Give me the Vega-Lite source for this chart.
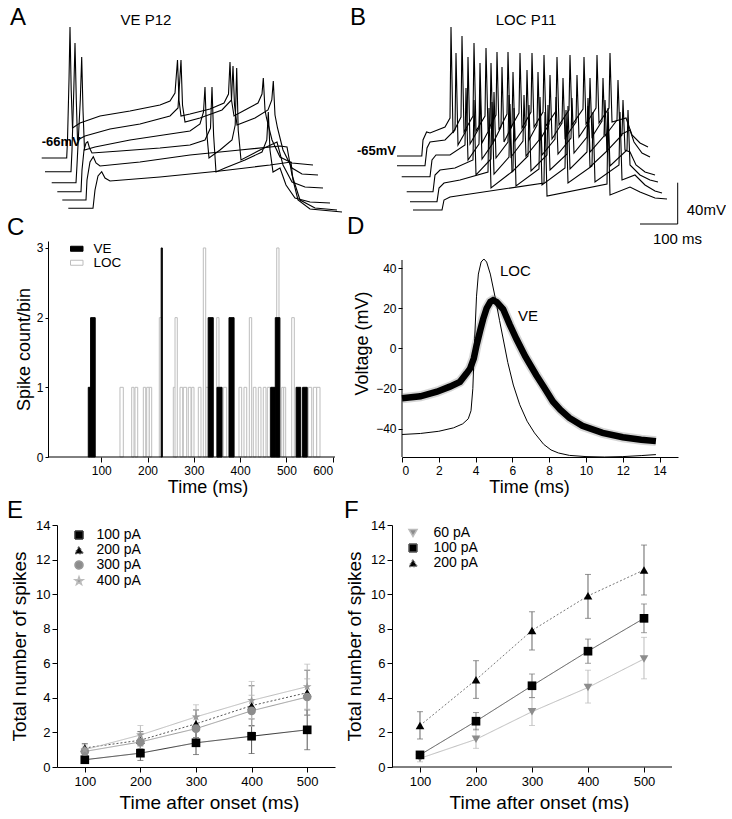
{
"$schema": "https://vega.github.io/schema/vega-lite/v6.json",
"padding": 0,
"background": "white",
"columns": 4,
"align": "each",
"bounds": "flush",
"spacing": {"row": 68, "column": 0},
"resolve": {
 "scale": {"color": "independent", "fill": "independent", "stroke": "independent", "shape": "independent", "strokeDash": "independent"},
 "legend": {"color": "independent", "fill": "independent", "stroke": "independent", "shape": "independent", "strokeDash": "independent"}
},
"config": {
 "font": "Liberation Sans",
 "view": {"stroke": null},
 "axis": {"grid": false, "domainColor": "black", "tickColor": "black", "labelColor": "black", "titleColor": "black", "titleFontWeight": "normal", "domainWidth": 1, "tickWidth": 1}
},
"datasets": {
 "ve": [{"t":0,"v":-24.8},{"t":1,"v":-23.8},{"t":1.9,"v":-21.5},{"t":2.6,"v":-19},{"t":3.15,"v":-16.6},{"t":3.5,"v":-12.5},{"t":3.7,"v":-10},{"t":3.9,"v":-5},{"t":4.05,"v":1.5},{"t":4.25,"v":9},{"t":4.41,"v":14.6},{"t":4.6,"v":20},{"t":4.8,"v":23.2},{"t":4.95,"v":24},{"t":5.15,"v":23},{"t":5.5,"v":19.5},{"t":5.85,"v":12},{"t":6.22,"v":4.7},{"t":6.7,"v":-4},{"t":7.3,"v":-13.3},{"t":7.7,"v":-19},{"t":8.2,"v":-26.4},{"t":8.6,"v":-30.5},{"t":9.1,"v":-34.6},{"t":9.8,"v":-38.5},{"t":10.9,"v":-42},{"t":12,"v":-44.2},{"t":13,"v":-45.4},{"t":13.8,"v":-46.1}],
 "eData": [
{"s":"100 pA","t":100,"m":0.42,"lo":0.28,"hi":0.56},{"s":"100 pA","t":200,"m":0.8,"lo":0.38,"hi":1.22},{"s":"100 pA","t":300,"m":1.4,"lo":0.72,"hi":2.08},{"s":"100 pA","t":400,"m":1.78,"lo":0.78,"hi":2.78},{"s":"100 pA","t":500,"m":2.15,"lo":1.0,"hi":3.3},
{"s":"200 pA","t":100,"m":1.1,"lo":0.85,"hi":1.35},{"s":"200 pA","t":200,"m":1.55,"lo":1.05,"hi":2.05},{"s":"200 pA","t":300,"m":2.5,"lo":1.7,"hi":3.3},{"s":"200 pA","t":400,"m":3.55,"lo":2.4,"hi":4.7},{"s":"200 pA","t":500,"m":4.3,"lo":3.0,"hi":5.6},
{"s":"300 pA","t":100,"m":0.9,"lo":0.65,"hi":1.15},{"s":"300 pA","t":200,"m":1.45,"lo":0.95,"hi":1.95},{"s":"300 pA","t":300,"m":2.22,"lo":1.5,"hi":2.95},{"s":"300 pA","t":400,"m":3.25,"lo":2.35,"hi":4.15},{"s":"300 pA","t":500,"m":4.05,"lo":3.0,"hi":5.1},
{"s":"400 pA","t":100,"m":1.0,"lo":0.72,"hi":1.28},{"s":"400 pA","t":200,"m":1.85,"lo":1.3,"hi":2.4},{"s":"400 pA","t":300,"m":2.9,"lo":2.15,"hi":3.6},{"s":"400 pA","t":400,"m":3.85,"lo":2.8,"hi":4.95},{"s":"400 pA","t":500,"m":4.65,"lo":3.35,"hi":5.95}
 ],
 "fData": [
{"s":"60 pA","t":100,"m":0.5,"lo":0.3,"hi":0.7},{"s":"60 pA","t":200,"m":1.6,"lo":1.08,"hi":2.2},{"s":"60 pA","t":300,"m":3.2,"lo":2.4,"hi":4.0},{"s":"60 pA","t":400,"m":4.6,"lo":3.7,"hi":5.6},{"s":"60 pA","t":500,"m":6.25,"lo":5.1,"hi":7.5},
{"s":"100 pA","t":100,"m":0.7,"lo":0.5,"hi":0.9},{"s":"100 pA","t":200,"m":2.65,"lo":2.15,"hi":3.15},{"s":"100 pA","t":300,"m":4.7,"lo":4.02,"hi":5.38},{"s":"100 pA","t":400,"m":6.7,"lo":6.0,"hi":7.4},{"s":"100 pA","t":500,"m":8.6,"lo":7.77,"hi":9.43},
{"s":"200 pA","t":100,"m":2.4,"lo":1.62,"hi":3.2},{"s":"200 pA","t":200,"m":5.05,"lo":3.97,"hi":6.15},{"s":"200 pA","t":300,"m":7.9,"lo":6.77,"hi":8.98},{"s":"200 pA","t":400,"m":9.9,"lo":8.6,"hi":11.14},{"s":"200 pA","t":500,"m":11.4,"lo":9.95,"hi":12.84}
 ]
},
"concat": [
 {"width": 57, "height": 173, "data": {"values": []}, "mark": "point"},
 {
  "width": 278, "height": 173,
  "encoding": {
   "x": {"field": "t", "type": "quantitative", "scale": {"domain": [42.5, 737.5], "nice": false, "zero": false}, "axis": null},
   "y": {"field": "v", "type": "quantitative", "scale": {"domain": [-81, 92], "nice": false, "zero": false}, "axis": null}
  },
  "layer": [
   {"data": {"values": [
{"k":1,"t":4.25,"v":-66},{"k":1,"t":66.75,"v":-66},{"k":1,"t":68.75,"v":-48},{"k":1,"t":72.5,"v":12},{"k":1,"t":75,"v":65},{"k":1,"t":78,"v":2},{"k":1,"t":81.25,"v":-36},{"k":1,"t":100,"v":-31},{"k":1,"t":150,"v":-24},{"k":1,"t":225,"v":-19},{"k":1,"t":300,"v":-13},{"k":1,"t":325,"v":-9},{"k":1,"t":337.5,"v":-1},{"k":1,"t":343.75,"v":32},{"k":1,"t":347.5,"v":-8},{"k":1,"t":352.5,"v":-24},{"k":1,"t":375,"v":-22},{"k":1,"t":425,"v":-17},{"k":1,"t":460,"v":-11},{"k":1,"t":471.25,"v":-2},{"k":1,"t":475,"v":30},{"k":1,"t":478.75,"v":-8},{"k":1,"t":485,"v":-24},{"k":1,"t":512.5,"v":-18},{"k":1,"t":545,"v":-11},{"k":1,"t":555,"v":-2},{"k":1,"t":558.25,"v":14},{"k":1,"t":562.5,"v":-18},{"k":1,"t":566.25,"v":-26},{"k":1,"t":580,"v":-48},{"k":1,"t":600,"v":-65},{"k":1,"t":630,"v":-71},{"k":1,"t":682.5,"v":-73},
{"k":2,"t":12.5,"v":-79.7},{"k":2,"t":77.5,"v":-79.7},{"k":2,"t":80,"v":-58},{"k":2,"t":84.5,"v":2},{"k":2,"t":87.5,"v":49},{"k":2,"t":90.75,"v":-8},{"k":2,"t":93.75,"v":-48},{"k":2,"t":112.5,"v":-44},{"k":2,"t":175,"v":-37},{"k":2,"t":250,"v":-32},{"k":2,"t":325,"v":-24},{"k":2,"t":345,"v":-16},{"k":2,"t":352.5,"v":32},{"k":2,"t":356.25,"v":-13},{"k":2,"t":362.5,"v":-30},{"k":2,"t":400,"v":-26},{"k":2,"t":455,"v":-18},{"k":2,"t":478.75,"v":-8},{"k":2,"t":482.5,"v":26},{"k":2,"t":486.25,"v":-13},{"k":2,"t":492.5,"v":-33},{"k":2,"t":537.5,"v":-26},{"k":2,"t":570,"v":-18},{"k":2,"t":579.5,"v":-8},{"k":2,"t":583.25,"v":11},{"k":2,"t":587.5,"v":-23},{"k":2,"t":593.75,"v":-36},{"k":2,"t":607.5,"v":-58},{"k":2,"t":630,"v":-76},{"k":2,"t":655,"v":-82},{"k":2,"t":695,"v":-83},
{"k":3,"t":29.25,"v":-90.7},{"k":3,"t":90,"v":-90.7},{"k":3,"t":92.5,"v":-73},{"k":3,"t":100.75,"v":-8},{"k":3,"t":104.25,"v":35},{"k":3,"t":107.5,"v":-18},{"k":3,"t":111.25,"v":-58},{"k":3,"t":137.5,"v":-55},{"k":3,"t":225,"v":-48},{"k":3,"t":325,"v":-42},{"k":3,"t":375,"v":-39},{"k":3,"t":400,"v":-32},{"k":3,"t":408.75,"v":-20},{"k":3,"t":412.5,"v":5},{"k":3,"t":416.25,"v":-38},{"k":3,"t":422.5,"v":-66},{"k":3,"t":450,"v":-58},{"k":3,"t":480,"v":-48},{"k":3,"t":488,"v":-33},{"k":3,"t":491.75,"v":24},{"k":3,"t":495.5,"v":-38},{"k":3,"t":502.5,"v":-68},{"k":3,"t":550,"v":-58},{"k":3,"t":592.5,"v":-50},{"k":3,"t":607.5,"v":-73},{"k":3,"t":630,"v":-90},{"k":3,"t":662.5,"v":-95},{"k":3,"t":707.5,"v":-96},
{"k":4,"t":43.25,"v":-99.7},{"k":4,"t":102.5,"v":-99.7},{"k":4,"t":105,"v":-78},{"k":4,"t":110,"v":-58},{"k":4,"t":115,"v":-51},{"k":4,"t":119.25,"v":-49.7},{"k":4,"t":123.75,"v":-56},{"k":4,"t":130,"v":-61},{"k":4,"t":200,"v":-59},{"k":4,"t":300,"v":-56},{"k":4,"t":375,"v":-53},{"k":4,"t":412.5,"v":-48},{"k":4,"t":426.25,"v":-36},{"k":4,"t":430,"v":5},{"k":4,"t":434,"v":-43},{"k":4,"t":440,"v":-80},{"k":4,"t":462.5,"v":-76},{"k":4,"t":512.5,"v":-68},{"k":4,"t":555,"v":-60},{"k":4,"t":567,"v":-48},{"k":4,"t":570.75,"v":-20},{"k":4,"t":575,"v":-58},{"k":4,"t":582.5,"v":-80},{"k":4,"t":600,"v":-76},{"k":4,"t":615,"v":-93},{"k":4,"t":637.5,"v":-106},{"k":4,"t":675,"v":-110},{"k":4,"t":725,"v":-111},
{"k":5,"t":55.75,"v":-108},{"k":5,"t":115,"v":-108},{"k":5,"t":117.5,"v":-88},{"k":5,"t":125,"v":-70},{"k":5,"t":133.25,"v":-64.7},{"k":5,"t":140,"v":-71},{"k":5,"t":150,"v":-74},{"k":5,"t":250,"v":-70},{"k":5,"t":375,"v":-63},{"k":5,"t":500,"v":-58},{"k":5,"t":600,"v":-54},{"k":5,"t":617.5,"v":-55},{"k":5,"t":630,"v":-83},{"k":5,"t":650,"v":-108},{"k":5,"t":687.5,"v":-116},{"k":5,"t":742.5,"v":-118},
{"k":6,"t":70.75,"v":-116.3},{"k":6,"t":132.5,"v":-116.3},{"k":6,"t":137.5,"v":-98},{"k":6,"t":145,"v":-84},{"k":6,"t":154.25,"v":-79.7},{"k":6,"t":162.5,"v":-86},{"k":6,"t":175,"v":-89},{"k":6,"t":300,"v":-85},{"k":6,"t":450,"v":-79},{"k":6,"t":575,"v":-73},{"k":6,"t":627.5,"v":-70},{"k":6,"t":632.5,"v":-88},{"k":6,"t":645,"v":-108},{"k":6,"t":675,"v":-117},{"k":6,"t":755,"v":-120}
    ]},
    "mark": {"type": "line", "color": "black", "strokeWidth": 1.1},
    "encoding": {"detail": {"field": "k", "type": "nominal"}}},
   {"data": {"values": [{"t": 265, "v": 67, "label": "VE P12"}]},
    "mark": {"type": "text", "fontSize": 15, "align": "center", "baseline": "alphabetic"},
    "encoding": {"text": {"field": "label"}}},
   {"data": {"values": [{"t": 4.25, "v": -54, "label": "-66mV"}]},
    "mark": {"type": "text", "fontSize": 13, "fontWeight": "bold", "align": "left", "baseline": "alphabetic"},
    "encoding": {"text": {"field": "label"}}},
   {"data": {"values": [{"t": -75, "v": 67, "label": "A"}]},
    "mark": {"type": "text", "fontSize": 24, "align": "left", "baseline": "alphabetic"},
    "encoding": {"text": {"field": "label"}}}
  ]
 },
 {"width": 67, "height": 173, "data": {"values": []}, "mark": "point"},
 {
  "width": 276, "height": 173,
  "encoding": {
   "x": {"field": "t", "type": "quantitative", "scale": {"domain": [12.5, 702.5], "nice": false, "zero": false}, "axis": null},
   "y": {"field": "v", "type": "quantitative", "scale": {"domain": [-82, 91], "nice": false, "zero": false}, "axis": null}
  },
  "layer": [
   {"data": {"values": [
{"k":1,"t":0,"v":-65},{"k":1,"t":62,"v":-65},{"k":1,"t":65,"v":-49},{"k":1,"t":74,"v":-41},{"k":1,"t":82.5,"v":-42},{"k":1,"t":120,"v":-36},
{"k":1,"t":132.5,"v":-27},{"k":1,"t":135,"v":64},{"k":1,"t":140,"v":-42},
{"k":1,"t":160,"v":-26},{"k":1,"t":162.5,"v":55},{"k":1,"t":167.5,"v":-41},
{"k":1,"t":190,"v":-25},{"k":1,"t":192.5,"v":48},{"k":1,"t":197.5,"v":-40},
{"k":1,"t":220,"v":-25},{"k":1,"t":222.5,"v":43},{"k":1,"t":227.5,"v":-39},
{"k":1,"t":247.5,"v":-24},{"k":1,"t":250,"v":39},{"k":1,"t":255,"v":-39},
{"k":1,"t":275,"v":-23},{"k":1,"t":277.5,"v":39},{"k":1,"t":282.5,"v":-38},
{"k":1,"t":305,"v":-22},{"k":1,"t":307.5,"v":38},{"k":1,"t":312.5,"v":-37},
{"k":1,"t":335,"v":-21},{"k":1,"t":337.5,"v":38},{"k":1,"t":342.5,"v":-36},
{"k":1,"t":365,"v":-21},{"k":1,"t":367.5,"v":36},{"k":1,"t":372.5,"v":-35},
{"k":1,"t":397.5,"v":-20},{"k":1,"t":400,"v":34},{"k":1,"t":405,"v":-34},
{"k":1,"t":430,"v":-19},{"k":1,"t":432.5,"v":36},{"k":1,"t":437.5,"v":-34},
{"k":1,"t":465,"v":-18},{"k":1,"t":467.5,"v":34},{"k":1,"t":472.5,"v":-33},
{"k":1,"t":497.5,"v":-17},{"k":1,"t":500,"v":36},{"k":1,"t":505,"v":-32},
{"k":1,"t":530,"v":-17},{"k":1,"t":532.5,"v":38},{"k":1,"t":537.5,"v":-31},
{"k":1,"t":572.5,"v":-27},{"k":1,"t":587.5,"v":-44},{"k":1,"t":607.5,"v":-52},{"k":1,"t":627.5,"v":-56},
{"k":2,"t":0,"v":-74.7},{"k":2,"t":70,"v":-74.7},{"k":2,"t":75,"v":-57},{"k":2,"t":82.5,"v":-51},{"k":2,"t":120,"v":-49},
{"k":2,"t":145,"v":-39},{"k":2,"t":147.5,"v":38},{"k":2,"t":152.5,"v":-54},
{"k":2,"t":175,"v":-38},{"k":2,"t":177.5,"v":34},{"k":2,"t":182.5,"v":-53},
{"k":2,"t":205,"v":-37},{"k":2,"t":207.5,"v":28},{"k":2,"t":212.5,"v":-52},
{"k":2,"t":232.5,"v":-37},{"k":2,"t":235,"v":28},{"k":2,"t":240,"v":-52},
{"k":2,"t":260,"v":-36},{"k":2,"t":262.5,"v":24},{"k":2,"t":267.5,"v":-51},
{"k":2,"t":287.5,"v":-35},{"k":2,"t":290,"v":19},{"k":2,"t":295,"v":-50},
{"k":2,"t":322.5,"v":-34},{"k":2,"t":325,"v":21},{"k":2,"t":330,"v":-49},
{"k":2,"t":350,"v":-34},{"k":2,"t":352.5,"v":19},{"k":2,"t":357.5,"v":-49},
{"k":2,"t":380,"v":-33},{"k":2,"t":382.5,"v":16},{"k":2,"t":387.5,"v":-48},
{"k":2,"t":412.5,"v":-32},{"k":2,"t":415,"v":13},{"k":2,"t":420,"v":-47},
{"k":2,"t":447.5,"v":-31},{"k":2,"t":450,"v":16},{"k":2,"t":455,"v":-46},
{"k":2,"t":480,"v":-31},{"k":2,"t":482.5,"v":13},{"k":2,"t":487.5,"v":-46},
{"k":2,"t":512.5,"v":-30},{"k":2,"t":515,"v":13},{"k":2,"t":520,"v":-45},
{"k":2,"t":550,"v":-29},{"k":2,"t":552.5,"v":11},{"k":2,"t":557.5,"v":-44},
{"k":2,"t":582.5,"v":-39},{"k":2,"t":592.5,"v":-51},{"k":2,"t":612.5,"v":-62},{"k":2,"t":632.5,"v":-66},
{"k":3,"t":11.75,"v":-85.7},{"k":3,"t":82.5,"v":-85.7},{"k":3,"t":87.5,"v":-69},{"k":3,"t":97.5,"v":-64},{"k":3,"t":132.5,"v":-64},
{"k":3,"t":170,"v":-54},{"k":3,"t":172.5,"v":3},{"k":3,"t":177.5,"v":-69},
{"k":3,"t":205,"v":-53},{"k":3,"t":207.5,"v":1},{"k":3,"t":212.5,"v":-68},
{"k":3,"t":240,"v":-52},{"k":3,"t":242.5,"v":-1},{"k":3,"t":247.5,"v":-67},
{"k":3,"t":277.5,"v":-51},{"k":3,"t":280,"v":-4},{"k":3,"t":285,"v":-66},
{"k":3,"t":315,"v":-50},{"k":3,"t":317.5,"v":-4},{"k":3,"t":322.5,"v":-65},
{"k":3,"t":355,"v":-49},{"k":3,"t":357.5,"v":-6},{"k":3,"t":362.5,"v":-64},
{"k":3,"t":395,"v":-48},{"k":3,"t":397.5,"v":-6},{"k":3,"t":402.5,"v":-63},
{"k":3,"t":435,"v":-47},{"k":3,"t":437.5,"v":-7},{"k":3,"t":442.5,"v":-62},
{"k":3,"t":475,"v":-46},{"k":3,"t":477.5,"v":-7},{"k":3,"t":482.5,"v":-61},
{"k":3,"t":517.5,"v":-45},{"k":3,"t":520,"v":-9},{"k":3,"t":525,"v":-60},
{"k":3,"t":562.5,"v":-44},{"k":3,"t":565,"v":-9},{"k":3,"t":570,"v":-59},
{"k":3,"t":582.5,"v":-61},{"k":3,"t":597.5,"v":-74},{"k":3,"t":620,"v":-81},{"k":3,"t":645,"v":-84},
{"k":4,"t":24.25,"v":-100.7},{"k":4,"t":90,"v":-100.7},{"k":4,"t":95,"v":-84},{"k":4,"t":107.5,"v":-79},{"k":4,"t":145,"v":-77},
{"k":4,"t":190,"v":-69},{"k":4,"t":192.5,"v":-9},{"k":4,"t":197.5,"v":-84},
{"k":4,"t":235,"v":-68},{"k":4,"t":237.5,"v":-11},{"k":4,"t":242.5,"v":-83},
{"k":4,"t":280,"v":-66},{"k":4,"t":282.5,"v":-13},{"k":4,"t":287.5,"v":-81},
{"k":4,"t":327.5,"v":-65},{"k":4,"t":330,"v":-14},{"k":4,"t":335,"v":-80},
{"k":4,"t":375,"v":-64},{"k":4,"t":377.5,"v":-14},{"k":4,"t":382.5,"v":-79},
{"k":4,"t":425,"v":-63},{"k":4,"t":427.5,"v":-15},{"k":4,"t":432.5,"v":-78},
{"k":4,"t":475,"v":-61},{"k":4,"t":477.5,"v":-15},{"k":4,"t":482.5,"v":-76},
{"k":4,"t":525,"v":-60},{"k":4,"t":527.5,"v":-17},{"k":4,"t":532.5,"v":-75},
{"k":4,"t":575,"v":-59},{"k":4,"t":577.5,"v":-19},{"k":4,"t":582.5,"v":-74},
{"k":4,"t":607.5,"v":-84},{"k":4,"t":632.5,"v":-89},{"k":4,"t":652.5,"v":-91},
{"k":5,"t":32.5,"v":-110.7},{"k":5,"t":100,"v":-110.7},{"k":5,"t":105,"v":-97},{"k":5,"t":117.5,"v":-92},{"k":5,"t":157.5,"v":-89},
{"k":5,"t":227.5,"v":-81},{"k":5,"t":230,"v":-17},{"k":5,"t":235,"v":-97},
{"k":5,"t":290,"v":-80},{"k":5,"t":292.5,"v":-17},{"k":5,"t":297.5,"v":-95},
{"k":5,"t":355,"v":-78},{"k":5,"t":357.5,"v":-19},{"k":5,"t":362.5,"v":-94},
{"k":5,"t":420,"v":-77},{"k":5,"t":422.5,"v":-19},{"k":5,"t":427.5,"v":-92},
{"k":5,"t":487.5,"v":-75},{"k":5,"t":490,"v":-21},{"k":5,"t":495,"v":-91},
{"k":5,"t":555,"v":-74},{"k":5,"t":557.5,"v":-21},{"k":5,"t":562.5,"v":-89},
{"k":5,"t":595,"v":-84},{"k":5,"t":620,"v":-94},{"k":5,"t":645,"v":-100},{"k":5,"t":662.5,"v":-102},
{"k":6,"t":40,"v":-119},{"k":6,"t":112.5,"v":-119},{"k":6,"t":117.5,"v":-109},{"k":6,"t":132.5,"v":-106},{"k":6,"t":182.5,"v":-103},
{"k":6,"t":367.5,"v":-92},{"k":6,"t":370,"v":-21},{"k":6,"t":375,"v":-105},
{"k":6,"t":525,"v":-93},{"k":6,"t":527.5,"v":-21},{"k":6,"t":532.5,"v":-104},
{"k":6,"t":582.5,"v":-96},{"k":6,"t":607.5,"v":-101},{"k":6,"t":645,"v":-107},{"k":6,"t":675,"v":-108}
    ]},
    "mark": {"type": "line", "color": "black", "strokeWidth": 1.1},
    "encoding": {"detail": {"field": "k", "type": "nominal"}}},
   {"data": {"values": [{"t": 607.5, "t2": 701.75, "v": -133, "v2": -133}, {"t": 701.75, "t2": 701.75, "v": -133, "v2": -91.7}]},
    "mark": {"type": "rule", "color": "black", "strokeWidth": 1},
    "encoding": {"x2": {"field": "t2"}, "y2": {"field": "v2"}}},
   {"data": {"values": [{"t": 322.5, "v": 66, "label": "LOC P11"}]},
    "mark": {"type": "text", "fontSize": 15, "align": "center", "baseline": "alphabetic"},
    "encoding": {"text": {"field": "label"}}},
   {"data": {"values": [{"t": -100, "v": -64, "label": "-65mV"}]},
    "mark": {"type": "text", "fontSize": 13, "fontWeight": "bold", "align": "left", "baseline": "alphabetic"},
    "encoding": {"text": {"field": "label"}}},
   {"data": {"values": [{"t": 724.25, "v": -124, "label": "40mV"}]},
    "mark": {"type": "text", "fontSize": 15, "align": "left", "baseline": "alphabetic"},
    "encoding": {"text": {"field": "label"}}},
   {"data": {"values": [{"t": 701.25, "v": -153, "label": "100 ms"}]},
    "mark": {"type": "text", "fontSize": 15, "align": "center", "baseline": "alphabetic"},
    "encoding": {"text": {"field": "label"}}},
   {"data": {"values": [{"t": -117.5, "v": 66, "label": "B"}]},
    "mark": {"type": "text", "fontSize": 24, "align": "left", "baseline": "alphabetic"},
    "encoding": {"text": {"field": "label"}}}
  ]
 },
 {"width": 57, "height": 216, "data": {"values": []}, "mark": "point"},
 {
  "width": 278, "height": 216,
  "encoding": {
   "x": {"field": "start", "type": "quantitative", "scale": {"domain": [4.44, 605], "nice": false, "zero": false},
         "axis": {"values": [100, 200, 300, 400, 500, 600], "domain": false, "title": "Time (ms)", "titleFontSize": 18, "labelFontSize": 12, "tickSize": 5, "labelPadding": 3, "titlePadding": 2, "labelFlush": 5, "titleX": 150.5}},
   "y": {"field": "n", "type": "quantitative", "scale": {"domain": [0, 3.1], "nice": false, "zero": false},
         "axis": {"values": [0, 1, 2, 3], "offset": 9, "title": "Spike count/bin", "titleFontSize": 18, "labelFontSize": 12, "tickSize": 3, "labelPadding": 2, "titlePadding": 3}}
  },
  "layer": [
   {"data": {"values": [
{"cell":"LOC","start":140.5,"end":147.7,"n":1},{"cell":"LOC","start":165.8,"end":170.8,"n":1},{"cell":"LOC","start":172.9,"end":178.8,"n":1},{"cell":"LOC","start":190.9,"end":196.1,"n":1},{"cell":"LOC","start":198.2,"end":203.8,"n":1},{"cell":"LOC","start":203.8,"end":209,"n":1},{"cell":"LOC","start":225.4,"end":230.6,"n":2},{"cell":"LOC","start":255.7,"end":261.5,"n":1},{"cell":"LOC","start":259.4,"end":264.3,"n":2},{"cell":"LOC","start":270.2,"end":276,"n":1},{"cell":"LOC","start":277.3,"end":284.6,"n":1},{"cell":"LOC","start":288.1,"end":293.9,"n":1},{"cell":"LOC","start":295.4,"end":300.4,"n":1},{"cell":"LOC","start":309.7,"end":315.5,"n":1},{"cell":"LOC","start":320.5,"end":325.7,"n":3},{"cell":"LOC","start":326,"end":331.3,"n":1},{"cell":"LOC","start":349.4,"end":354.4,"n":2},{"cell":"LOC","start":363.7,"end":371,"n":1},{"cell":"LOC","start":397.6,"end":403.4,"n":1},{"cell":"LOC","start":408.4,"end":414.3,"n":1},{"cell":"LOC","start":419.9,"end":425,"n":2},{"cell":"LOC","start":428.5,"end":434.3,"n":1},{"cell":"LOC","start":439.3,"end":445.1,"n":1},{"cell":"LOC","start":450.1,"end":455.9,"n":1},{"cell":"LOC","start":458.8,"end":464.6,"n":1},{"cell":"LOC","start":479.1,"end":484,"n":3},{"cell":"LOC","start":489.9,"end":494.2,"n":1},{"cell":"LOC","start":494.2,"end":498.5,"n":1},{"cell":"LOC","start":511.5,"end":517.1,"n":2},{"cell":"LOC","start":547.4,"end":554.7,"n":1},{"cell":"LOC","start":558.2,"end":565.5,"n":1},{"cell":"LOC","start":565.5,"end":572.6,"n":1},
{"cell":"VE","start":72,"end":77,"n":1},{"cell":"VE","start":77,"end":87,"n":2},{"cell":"VE","start":229.5,"end":232,"n":3},{"cell":"VE","start":331,"end":342,"n":2},{"cell":"VE","start":350,"end":361,"n":1},{"cell":"VE","start":376,"end":387,"n":2},{"cell":"VE","start":466,"end":476,"n":1},{"cell":"VE","start":476,"end":486,"n":2},{"cell":"VE","start":521,"end":531,"n":1},{"cell":"VE","start":535,"end":545,"n":1}
    ]},
    "mark": {"type": "rect", "strokeWidth": 1},
    "encoding": {
     "x2": {"field": "end"},
     "y2": {"datum": 0},
     "fill": {"field": "cell", "type": "nominal", "scale": {"domain": ["VE", "LOC"], "range": ["black", "white"]},
              "legend": {"orient": "none", "legendX": 13, "legendY": 1, "title": null, "padding": 0, "symbolType": "M-1.25,-0.5H1.25V0.5H-1.25Z", "symbolSize": 100, "labelFontSize": 13.5, "labelOffset": 10, "rowPadding": -1, "symbolStrokeWidth": 1}},
     "stroke": {"field": "cell", "type": "nominal", "scale": {"domain": ["VE", "LOC"], "range": ["black", "#bdbdbd"]}, "legend": null}
    }},
   {"data": {"values": [{"start": -15, "end": 605, "n": 0}]},
    "mark": {"type": "rule", "color": "black", "strokeWidth": 1},
    "encoding": {"x2": {"field": "end"}}},
   {"data": {"values": [{"start": -103.6, "n": 3.193, "label": "C"}]},
    "mark": {"type": "text", "fontSize": 24, "align": "left", "baseline": "alphabetic"},
    "encoding": {"text": {"field": "label"}}}
  ]
 },
 {"width": 67, "height": 216, "data": {"values": []}, "mark": "point"},
 {
  "width": 276, "height": 216,
  "encoding": {
   "x": {"field": "t", "type": "quantitative", "scale": {"domain": [0, 15], "nice": false, "zero": false},
         "axis": {"values": [0, 2, 4, 6, 8, 10, 12, 14], "title": "Time (ms)", "titleFontSize": 18, "labelFontSize": 12, "tickSize": 5, "labelPadding": 3, "titlePadding": 2, "titleX": 127}},
   "y": {"field": "v", "type": "quantitative", "scale": {"domain": [-54, 53.45], "nice": false, "zero": false},
         "axis": {"values": [-40, -20, 0, 20, 40], "domain": false, "title": "Voltage (mV)", "titleFontSize": 18, "labelFontSize": 12, "tickSize": 4, "labelPadding": 2, "titlePadding": 4, "titleY": 102}}
  },
  "layer": [
   {"data": {"values": [{"t": 0, "v": -54, "v2": 44}]},
    "mark": {"type": "rule", "color": "black", "strokeWidth": 1},
    "encoding": {"y2": {"field": "v2"}}},
   {"data": {"name": "ve"}, "mark": {"type": "line", "color": "#777777", "strokeWidth": 10, "opacity": 0.3}},
   {"data": {"values": [{"t":0,"v":-42.8},{"t":1,"v":-42.3},{"t":2,"v":-41.2},{"t":2.8,"v":-39.5},{"t":3.3,"v":-37.5},{"t":3.6,"v":-35},{"t":3.75,"v":-31},{"t":3.85,"v":-20},{"t":3.95,"v":5},{"t":4.05,"v":26},{"t":4.15,"v":37},{"t":4.3,"v":43},{"t":4.45,"v":44.5},{"t":4.6,"v":43},{"t":4.8,"v":37},{"t":5.05,"v":26},{"t":5.3,"v":14},{"t":5.5,"v":4.7},{"t":5.75,"v":-7},{"t":6.05,"v":-18.2},{"t":6.4,"v":-28},{"t":6.8,"v":-36.2},{"t":7.2,"v":-42},{"t":7.7,"v":-47.7},{"t":8.1,"v":-50.5},{"t":8.5,"v":-52},{"t":9.1,"v":-53.2},{"t":10,"v":-53.8},{"t":11,"v":-54},{"t":12,"v":-53.8},{"t":13,"v":-53.3},{"t":13.8,"v":-52.8}]},
    "mark": {"type": "line", "color": "black", "strokeWidth": 1}},
   {"data": {"name": "ve"}, "mark": {"type": "line", "color": "black", "strokeWidth": 6.5}},
   {"data": {"values": [{"t": 5.32, "v": 36.2, "label": "LOC"}, {"t": 6.3, "v": 13.7, "label": "VE"}]},
    "mark": {"type": "text", "fontSize": 15, "align": "left", "baseline": "alphabetic"},
    "encoding": {"text": {"field": "label"}}},
   {"data": {"values": [{"t": -2.99, "v": 56.7, "label": "D"}]},
    "mark": {"type": "text", "fontSize": 24, "align": "left", "baseline": "alphabetic"},
    "encoding": {"text": {"field": "label"}}}
  ]
 },
 {"width": 57, "height": 242, "data": {"values": []}, "mark": "point"},
 {
  "width": 278, "height": 242,
  "data": {"name": "eData"},
  "encoding": {
   "x": {"field": "t", "type": "quantitative", "scale": {"domain": [50, 550], "nice": false, "zero": false},
         "axis": {"values": [100, 200, 300, 400, 500], "title": "Time after onset (ms)", "titleFontSize": 19, "labelFontSize": 13, "tickSize": 5, "labelPadding": 3, "titlePadding": 5, "titleX": 152}},
   "y": {"field": "m", "type": "quantitative", "scale": {"domain": [0, 14], "nice": false}, "axis": {"values": [0, 2, 4, 6, 8, 10, 12, 14], "title": "Total number of spikes", "titleFontSize": 19, "labelFontSize": 13, "tickSize": 5, "labelPadding": 2, "titlePadding": 6}}
  },
  "layer": [
   {"data": {"values": []},
    "mark": {"type": "point", "filled": true, "size": 75, "opacity": 1},
    "encoding": {
     "color": {"field": "s", "type": "nominal", "scale": {"domain": ["100 pA", "200 pA", "300 pA", "400 pA"], "range": ["black", "black", "#8c8c8c", "#9a9a9a"]},
              "legend": {"orient": "none", "legendX": 15, "legendY": 3, "title": null, "padding": 0, "symbolSize": 64, "labelFontSize": 14, "labelOffset": 10.5, "rowPadding": 1}},
     "shape": {"field": "s", "type": "nominal", "scale": {"domain": ["100 pA", "200 pA", "300 pA", "400 pA"], "range": ["square", "triangle-up", "circle", "M0,-1.05L0.25,-0.33L1,-0.33L0.4,0.13L0.62,0.85L0,0.42L-0.62,0.85L-0.4,0.13L-1,-0.33L-0.25,-0.33Z"]}, "legend": null}
    }},
   {"transform": [{"filter": "datum.s === '100 pA'"}], "mark": {"type": "errorbar", "ticks": {"size": 6}, "thickness": 1, "color": "#555555"}, "encoding": {"y": {"field": "lo", "type": "quantitative"}, "y2": {"field": "hi"}}},
   {"transform": [{"filter": "datum.s === '200 pA'"}], "mark": {"type": "errorbar", "ticks": {"size": 6}, "thickness": 1, "color": "#444444"}, "encoding": {"y": {"field": "lo", "type": "quantitative"}, "y2": {"field": "hi"}}},
   {"transform": [{"filter": "datum.s === '300 pA'"}], "mark": {"type": "errorbar", "ticks": {"size": 6}, "thickness": 1, "color": "#aaaaaa"}, "encoding": {"y": {"field": "lo", "type": "quantitative"}, "y2": {"field": "hi"}}},
   {"transform": [{"filter": "datum.s === '400 pA'"}], "mark": {"type": "errorbar", "ticks": {"size": 6}, "thickness": 1, "color": "#bbbbbb"}, "encoding": {"y": {"field": "lo", "type": "quantitative"}, "y2": {"field": "hi"}}},
   {"mark": {"type": "line", "strokeWidth": 1},
    "encoding": {
     "stroke": {"field": "s", "type": "nominal", "scale": {"domain": ["100 pA", "200 pA", "300 pA", "400 pA"], "range": ["#333333", "#555555", "#999999", "#bbbbbb"]}, "legend": null},
     "strokeDash": {"field": "s", "type": "nominal", "scale": {"domain": ["100 pA", "200 pA", "300 pA", "400 pA"], "range": [[1, 0], [2, 2], [1, 0], [1, 0]]}, "legend": null}
    }},
   {"mark": {"type": "point", "filled": true, "size": 75, "opacity": 1},
    "encoding": {
     "color": {"field": "s", "type": "nominal", "scale": {"domain": ["100 pA", "200 pA", "300 pA", "400 pA"], "range": ["black", "black", "#8c8c8c", "#9a9a9a"]}, "legend": null},
     "shape": {"field": "s", "type": "nominal", "scale": {"domain": ["100 pA", "200 pA", "300 pA", "400 pA"], "range": ["square", "triangle-up", "circle", "M0,-1.05L0.25,-0.33L1,-0.33L0.4,0.13L0.62,0.85L0,0.42L-0.62,0.85L-0.4,0.13L-1,-0.33L-0.25,-0.33Z"]}, "legend": null}
    }},
   {"data": {"values": [{"t": -39.9, "m": 14.43, "label": "E"}]},
    "mark": {"type": "text", "fontSize": 24, "align": "left", "baseline": "alphabetic"},
    "encoding": {"text": {"field": "label"}}}
  ]
 },
 {"width": 67, "height": 242, "data": {"values": []}, "mark": "point"},
 {
  "width": 270, "height": 242,
  "data": {"name": "fData"},
  "encoding": {
   "x": {"field": "t", "type": "quantitative", "scale": {"domain": [67.86, 550], "nice": false, "zero": false},
         "axis": {"values": [100, 200, 300, 400, 500], "domain": false, "title": "Time after onset (ms)", "titleFontSize": 19, "labelFontSize": 13, "tickSize": 5, "labelPadding": 3, "titlePadding": 5, "titleX": 137}},
   "y": {"field": "m", "type": "quantitative", "scale": {"domain": [0, 14], "nice": false}, "axis": {"values": [0, 2, 4, 6, 8, 10, 12, 14], "offset": 10, "title": "Total number of spikes", "titleFontSize": 19, "labelFontSize": 13, "tickSize": 5, "labelPadding": 2, "titlePadding": 6}}
  },
  "layer": [
   {"data": {"values": []},
    "mark": {"type": "point", "filled": true, "size": 75, "opacity": 1},
    "encoding": {
     "color": {"field": "s", "type": "nominal", "scale": {"domain": ["60 pA", "100 pA", "200 pA"], "range": ["#8c8c8c", "black", "black"]},
              "legend": {"orient": "none", "legendX": 4, "legendY": 1, "title": null, "padding": 0, "symbolSize": 64, "labelFontSize": 14, "labelOffset": 13.5, "rowPadding": 1}},
     "shape": {"field": "s", "type": "nominal", "scale": {"domain": ["60 pA", "100 pA", "200 pA"], "range": ["triangle-down", "square", "triangle-up"]}, "legend": null}
    }},
   {"data": {"values": [{"t": 50, "t2": 550, "m": 0}]},
    "mark": {"type": "rule", "color": "black", "strokeWidth": 1},
    "encoding": {"x2": {"field": "t2"}}},
   {"transform": [{"filter": "datum.s === '60 pA'"}], "mark": {"type": "errorbar", "ticks": {"size": 6}, "thickness": 1, "color": "#bbbbbb"}, "encoding": {"y": {"field": "lo", "type": "quantitative"}, "y2": {"field": "hi"}}},
   {"transform": [{"filter": "datum.s === '100 pA'"}], "mark": {"type": "errorbar", "ticks": {"size": 6}, "thickness": 1, "color": "#777777"}, "encoding": {"y": {"field": "lo", "type": "quantitative"}, "y2": {"field": "hi"}}},
   {"transform": [{"filter": "datum.s === '200 pA'"}], "mark": {"type": "errorbar", "ticks": {"size": 6}, "thickness": 1, "color": "#666666"}, "encoding": {"y": {"field": "lo", "type": "quantitative"}, "y2": {"field": "hi"}}},
   {"mark": {"type": "line", "strokeWidth": 1},
    "encoding": {
     "stroke": {"field": "s", "type": "nominal", "scale": {"domain": ["60 pA", "100 pA", "200 pA"], "range": ["#bbbbbb", "#555555", "#777777"]}, "legend": null},
     "strokeDash": {"field": "s", "type": "nominal", "scale": {"domain": ["60 pA", "100 pA", "200 pA"], "range": [[1, 0], [1, 0], [2, 2]]}, "legend": null}
    }},
   {"mark": {"type": "point", "filled": true, "size": 75, "opacity": 1},
    "encoding": {
     "color": {"field": "s", "type": "nominal", "scale": {"domain": ["60 pA", "100 pA", "200 pA"], "range": ["#8c8c8c", "black", "black"]}, "legend": null},
     "shape": {"field": "s", "type": "nominal", "scale": {"domain": ["60 pA", "100 pA", "200 pA"], "range": ["triangle-down", "square", "triangle-up"]}, "legend": null}
    }},
   {"data": {"values": [{"t": -35.7, "m": 14.43, "label": "F"}]},
    "mark": {"type": "text", "fontSize": 24, "align": "left", "baseline": "alphabetic"},
    "encoding": {"text": {"field": "label"}}}
  ]
 }
]
}
